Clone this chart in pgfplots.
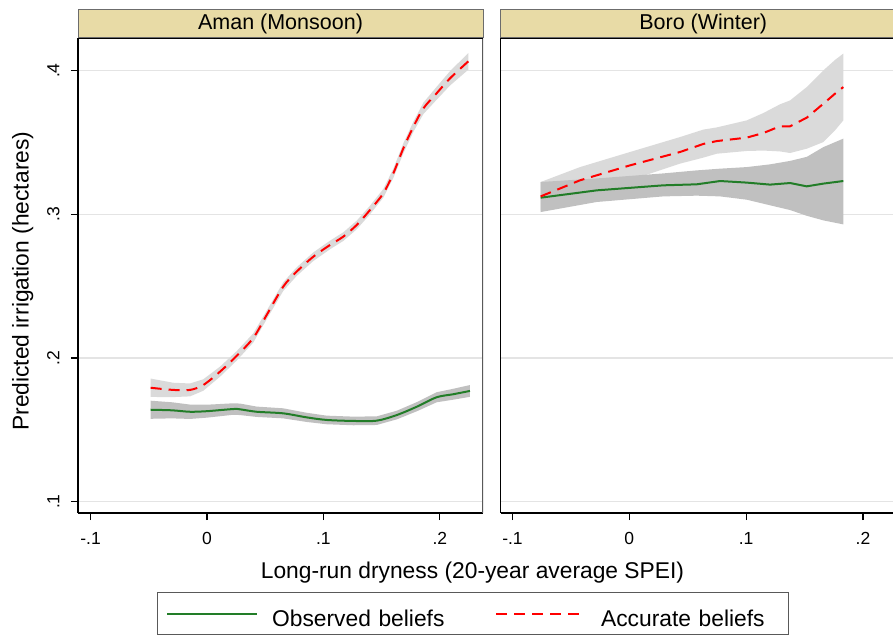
\documentclass[border=0pt]{standalone}
\usepackage{pgfplots}
\pgfplotsset{compat=1.18}
\usepackage{pgfplotstable}
\usepackage{fontspec}
\setmainfont{Liberation Sans}
\definecolor{hdr}{RGB}{232,219,166}
\definecolor{obsgreen}{RGB}{34,125,40}
\definecolor{bandlight}{RGB}{218,218,218}
\definecolor{banddark}{RGB}{192,192,192}
\definecolor{gridgray}{RGB}{228,228,228}

% Aman (Monsoon): accurate beliefs (estimate)
\pgfplotstableread{
x y
-0.0484 0.1793
-0.0290 0.1778
-0.0146 0.1778
-0.0032 0.1812
0.0112 0.1905
0.0255 0.2015
0.0398 0.2140
0.0513 0.2300
0.0655 0.2497
0.0770 0.2601
0.0913 0.2705
0.1057 0.2787
0.1171 0.2845
0.1286 0.2926
0.1400 0.3030
0.1515 0.3147
0.1601 0.3286
0.1687 0.3460
0.1773 0.3610
0.1859 0.3738
0.1973 0.3843
0.2088 0.3947
0.2245 0.4065
}\amanacc
% Aman accurate: confidence band (upper edge, then lower edge back)
\pgfplotstableread{
x y
-0.0484 0.1857
-0.0290 0.1828
-0.0146 0.1823
-0.0032 0.1852
0.0112 0.1940
0.0255 0.2048
0.0398 0.2172
0.0513 0.2330
0.0655 0.2527
0.0770 0.2631
0.0913 0.2735
0.1057 0.2817
0.1171 0.2875
0.1286 0.2956
0.1400 0.3060
0.1515 0.3177
0.1601 0.3318
0.1687 0.3495
0.1773 0.3645
0.1859 0.3778
0.1973 0.3888
0.2088 0.3997
0.2245 0.4123
0.2245 0.4007
0.2088 0.3897
0.1973 0.3798
0.1859 0.3698
0.1773 0.3575
0.1687 0.3425
0.1601 0.3254
0.1515 0.3117
0.1400 0.3000
0.1286 0.2896
0.1171 0.2815
0.1057 0.2757
0.0913 0.2675
0.0770 0.2571
0.0655 0.2467
0.0513 0.2270
0.0398 0.2108
0.0255 0.1982
0.0112 0.1870
-0.0032 0.1772
-0.0146 0.1733
-0.0290 0.1728
-0.0484 0.1729
}\amanaccband

% Aman (Monsoon): observed beliefs
\pgfplotstableread{
x y
-0.0484 0.1640
-0.0300 0.1636
-0.0146 0.1626
0.0000 0.1630
0.0226 0.1645
0.0284 0.1643
0.0427 0.1626
0.0655 0.1615
0.0856 0.1587
0.1028 0.1569
0.1257 0.1562
0.1458 0.1564
0.1630 0.1603
0.1802 0.1661
0.1973 0.1727
0.2116 0.1748
0.2259 0.1771
}\amanobs
\pgfplotstableread{
x y
-0.0484 0.1703
-0.0300 0.1692
-0.0146 0.1676
0.0000 0.1675
0.0226 0.1685
0.0284 0.1683
0.0427 0.1662
0.0655 0.1650
0.0856 0.1619
0.1028 0.1599
0.1257 0.1592
0.1458 0.1594
0.1630 0.1633
0.1802 0.1693
0.1973 0.1762
0.2116 0.1786
0.2259 0.1812
0.2259 0.1730
0.2116 0.1710
0.1973 0.1692
0.1802 0.1629
0.1630 0.1573
0.1458 0.1534
0.1257 0.1532
0.1028 0.1539
0.0856 0.1555
0.0655 0.1580
0.0427 0.1590
0.0284 0.1603
0.0226 0.1605
0.0000 0.1585
-0.0146 0.1576
-0.0300 0.1580
-0.0484 0.1577
}\amanobsband

% Boro (Winter): accurate beliefs
\pgfplotstableread{
x y
-0.0759 0.3125
-0.0422 0.3237
0.0006 0.3341
0.0434 0.3434
0.0634 0.3490
0.0748 0.3510
0.1005 0.3534
0.1147 0.3566
0.1290 0.3613
0.1376 0.3613
0.1519 0.3673
0.1661 0.3770
0.1761 0.3840
0.1832 0.3886
}\boroacc
\pgfplotstableread{
x y
-0.0759 0.3225
-0.0422 0.3329
0.0006 0.3434
0.0434 0.3538
0.0634 0.3590
0.0748 0.3605
0.1005 0.3654
0.1147 0.3705
0.1290 0.3766
0.1376 0.3793
0.1519 0.3886
0.1661 0.4002
0.1761 0.4075
0.1832 0.4119
0.1832 0.3654
0.1761 0.3585
0.1661 0.3503
0.1519 0.3457
0.1376 0.3427
0.1290 0.3438
0.1147 0.3444
0.1005 0.3441
0.0748 0.3422
0.0634 0.3395
0.0434 0.3353
0.0006 0.3237
-0.0422 0.3144
-0.0759 0.3028
}\boroaccband

% Boro (Winter): observed beliefs
\pgfplotstableread{
x y
-0.0759 0.3116
-0.0279 0.3167
0.0291 0.3202
0.0577 0.3209
0.0777 0.3232
0.1005 0.3221
0.1205 0.3207
0.1376 0.3218
0.1519 0.3195
0.1661 0.3214
0.1832 0.3232
}\boroobs
\pgfplotstableread{
x y
-0.0759 0.3225
-0.0279 0.3250
0.0291 0.3285
0.0577 0.3306
0.0777 0.3318
0.1005 0.3329
0.1205 0.3348
0.1376 0.3372
0.1519 0.3400
0.1661 0.3468
0.1832 0.3527
0.1832 0.2930
0.1661 0.2958
0.1519 0.2990
0.1376 0.3030
0.1205 0.3063
0.1005 0.3102
0.0777 0.3125
0.0577 0.3130
0.0291 0.3125
-0.0279 0.3086
-0.0759 0.3016
}\boroobsband

\pgfplotsset{
  panel/.style={
    scale only axis, width=405pt, height=475pt,
    ymin=0.09213, ymax=0.42275,
    axis x line*=bottom, axis y line*=left,
    axis line style={line width=1.5pt, black, -},
    xtick={-0.1,0,0.1,0.2}, xticklabels={-.1,0,.1,.2},
    ytick={0.1,0.2,0.3,0.4},
    tick align=outside, major tick length=7pt,
    tick style={line width=1.2pt, black},
    ymajorgrids, major grid style={gridgray, line width=1.3pt},
    ticklabel style={font=\fontsize{17.5}{20}\selectfont},
    xticklabel style={anchor=base, yshift=-24pt},
    /pgf/number format/assume math mode=true,
    title style={at={(0.5,1)}, anchor=south, yshift=-6pt, fill=hdr, draw=gray!85!black,
      line width=1pt, minimum width=405pt, minimum height=28pt, inner sep=0pt,
      font=\fontsize{21.5}{24}\selectfont},
  },
  obsline/.style={obsgreen, line width=2pt},
  accline/.style={red, line width=2pt, dash pattern=on 11pt off 7pt},
}

\begin{document}
\begin{tikzpicture}
\begin{scope}
\clip (0pt,0pt) rectangle (893pt,635pt);

\begin{axis}[panel,
  at={(78pt,122pt)}, anchor=south west,
  xmin=-0.1108, xmax=0.2371,
  title={Aman (Monsoon)},
  yticklabels={.1,.2,.3,.4},
  yticklabel style={xshift=-11.5pt, rotate=90, anchor=base},
  ylabel={Predicted irrigation (hectares)},
  ylabel style={at={(axis description cs:-0.1222,0.488)}, anchor=base,
    font=\fontsize{22.8}{26}\selectfont},
  xlabel={Long-run dryness (20-year average SPEI)},
  xlabel style={at={(axis description cs:0.974,-0.1389)}, anchor=base,
    font=\fontsize{22.8}{26}\selectfont},
  legend columns=2,
  legend cell align=left,
  legend image code/.code={\draw[#1] (0pt,0pt) -- (90pt,0pt);},
  legend style={at={(0.1951,-0.1663)}, anchor=north west,
    draw=gray!70!black, line width=1.2pt, fill=white,
    inner xsep=8.5pt, inner ysep=5pt,
    font=\fontsize{22.8}{26}\selectfont,
    nodes={inner sep=0pt, text height=29pt, text depth=3pt, text width=179pt},
    /tikz/every odd column/.append style={column sep=14pt},
    /tikz/every even column/.append style={column sep=44pt}},
]
\addplot[fill=bandlight, draw=none, forget plot] table[x=x, y=y] {\amanaccband};
\addplot[fill=banddark, draw=none, forget plot] table[x=x, y=y] {\amanobsband};
\addplot[obsline, smooth] table[x=x, y=y] {\amanobs};
\addlegendentry{Observed beliefs}
\addplot[accline, smooth] table[x=x, y=y] {\amanacc};
\addlegendentry{Accurate beliefs}
\draw[gray!70!black, line width=1.3pt] (rel axis cs:1,0) -- (rel axis cs:1,1);
\draw[black, line width=1.5pt] (rel axis cs:0,1) -- (rel axis cs:1,1);
\end{axis}

\begin{axis}[panel,
  at={(500.7pt,122pt)}, anchor=south west,
  xmin=-0.1101, xmax=0.2366,
  title={Boro (Winter)},
  yticklabels={}, ytick style={draw=none},
]
\addplot[fill=bandlight, draw=none] table[x=x, y=y] {\boroaccband};
\addplot[fill=banddark, draw=none] table[x=x, y=y] {\boroobsband};
\addplot[obsline] table[x=x, y=y] {\boroobs};
\addplot[accline] table[x=x, y=y] {\boroacc};
\draw[black, line width=1.5pt] (rel axis cs:0,1) -- (rel axis cs:1,1);
\end{axis}
\end{scope}

\pgfresetboundingbox
\useasboundingbox (0pt,0pt) rectangle (893pt,635pt);
\end{tikzpicture}
\end{document}
